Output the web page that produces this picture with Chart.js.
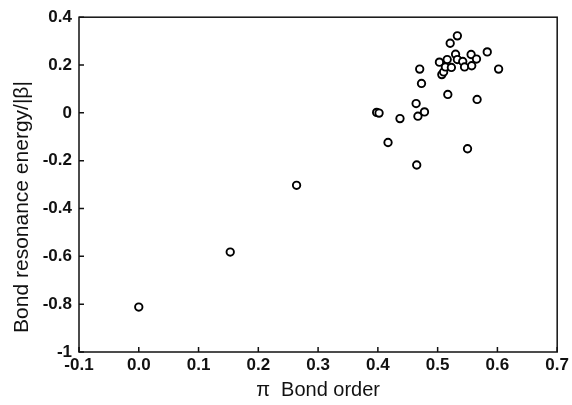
<!DOCTYPE html>
<html>
<head>
<meta charset="utf-8">
<script src="https://cdn.jsdelivr.net/npm/chart.js@4.4.1/dist/chart.umd.min.js"></script>
<style>
  html, body { margin: 0; padding: 0; background: #fff; }
  #wrap { width: 572px; height: 405px; position: relative; }
</style>
</head>
<body>
<div id="wrap"><canvas id="c"></canvas></div>
<script>
// Data
const bondOrder = [0.000, 0.153, 0.264, 0.398, 0.402, 0.417, 0.437, 0.464, 0.465, 0.467, 0.470, 0.473, 0.478,
  0.503, 0.507, 0.510, 0.513, 0.516, 0.517, 0.521, 0.523, 0.530, 0.533, 0.533, 0.542, 0.545, 0.550,
  0.556, 0.557, 0.565, 0.566, 0.583, 0.602];
const resonanceEnergy = [-0.812, -0.582, -0.303, 0.002, -0.001, -0.124, -0.024, 0.039, -0.218, -0.014, 0.183, 0.123, 0.004,
  0.212, 0.160, 0.171, 0.192, 0.223, 0.077, 0.291, 0.190, 0.245, 0.322, 0.223, 0.215, 0.192, -0.150,
  0.244, 0.197, 0.225, 0.056, 0.255, 0.183];
const xTicks = [-0.1, 0.0, 0.1, 0.2, 0.3, 0.4, 0.5, 0.6, 0.7];
const yTicks = [-1, -0.8, -0.6, -0.4, -0.2, 0, 0.2, 0.4];
const xTitle = 'π  Bond order';
const yTitle = 'Bond resonance energy/|β|';

const points = bondOrder.map((x, i) => ({ x: x, y: resonanceEnergy[i] }));
const FONT = 'Liberation Sans, Arial, sans-serif';

const frame = {
  id: 'frame',
  afterDatasetsDraw(chart) {
    const { ctx, chartArea: a, scales } = chart;
    ctx.save();
    ctx.strokeStyle = '#111';
    ctx.lineWidth = 1.5;
    ctx.strokeRect(a.left, a.top, a.right - a.left, a.bottom - a.top);
    ctx.beginPath();
    const tl = 5;
    scales.x.ticks.forEach((t, i) => {
      const px = scales.x.getPixelForTick(i);
      ctx.moveTo(px, a.bottom);
      ctx.lineTo(px, a.bottom - tl);
    });
    scales.y.ticks.forEach((t, i) => {
      const py = scales.y.getPixelForTick(i);
      ctx.moveTo(a.left, py);
      ctx.lineTo(a.left + tl, py);
    });
    ctx.stroke();
    // y axis title
    ctx.translate(22, 207);
    ctx.rotate(-Math.PI / 2);
    ctx.fillStyle = '#111';
    ctx.font = '21px ' + FONT;
    ctx.textAlign = 'center';
    ctx.textBaseline = 'middle';
    ctx.fillText(yTitle, 0, 0);
    ctx.restore();
  }
};

new Chart(document.getElementById('c'), {
  type: 'scatter',
  data: {
    datasets: [{
      data: points,
      pointStyle: 'circle',
      pointRadius: 3.7,
      pointBorderWidth: 1.9,
      pointBorderColor: '#000',
      pointBackgroundColor: '#fff'
    }]
  },
  options: {
    responsive: true,
    maintainAspectRatio: false,
    animation: false,
    layout: { padding: { top: 17, right: 12, left: 0, bottom: 0 } },
    plugins: { legend: { display: false }, tooltip: { enabled: false } },
    scales: {
      x: {
        type: 'linear',
        min: xTicks[0], max: xTicks[xTicks.length - 1],
        afterBuildTicks(s) { s.ticks = xTicks.map(v => ({ value: v })); },
        afterFit(s) { s.height = 53; },
        grid: { display: false, tickLength: 0 },
        border: { display: false },
        ticks: {
          padding: 3,
          color: '#111',
          font: { family: FONT, size: 17, weight: 'bold' },
          callback: v => (Math.abs(v) < 1e-9 ? 0 : v).toFixed(1)
        },
        title: {
          display: true, text: xTitle, color: '#111',
          font: { family: FONT, size: 20 },
          padding: { top: 0, bottom: 3 }
        }
      },
      y: {
        type: 'linear',
        min: yTicks[0], max: yTicks[yTicks.length - 1],
        afterBuildTicks(s) { s.ticks = yTicks.map(v => ({ value: v })); },
        afterFit(s) { s.width = 79; },
        grid: { display: false, tickLength: 0 },
        border: { display: false },
        ticks: {
          padding: 7,
          color: '#111',
          font: { family: FONT, size: 17, weight: 'bold' },
          callback: v => String(Math.round(v * 10) / 10)
        },
        title: { display: false }
      }
    }
  },
  plugins: [frame]
});
</script>
</body>
</html>
